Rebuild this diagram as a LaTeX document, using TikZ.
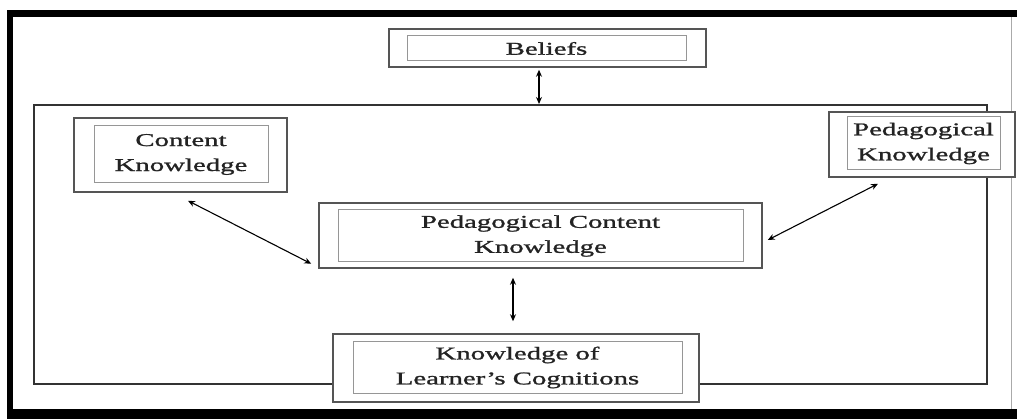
\documentclass[tikz,border=0pt]{standalone}
\usepackage{fontspec}
\setmainfont{Liberation Serif}[FakeStretch=1.6,FakeBold=1.2]
\usetikzlibrary{calc,arrows.meta}

\tikzset{
  outerbox/.style={draw={rgb, 255:red, 85; green, 85; blue, 85}, line width=1.5pt, fill=white, inner sep=0pt},
  innerbox/.style={draw={rgb, 255:red, 150; green, 150; blue, 150}, line width=1pt, inner sep=0pt, align=center,
    text={rgb, 255:red, 35; green, 35; blue, 35}, font=\fontsize{18}{25}\selectfont},
  link/.style={line width=1.1pt, {Stealth[length=7pt,width=6pt]}-{Stealth[length=7pt,width=6pt]}}
}

\begin{document}
\begin{tikzpicture}[x=1pt,y=1pt,yscale=-1,xscale=1]
\useasboundingbox (0,0) rectangle (1017,419);

%Outer border 
\fill (7,10) rectangle (1017,17);
\fill (7,10) rectangle (13,419);
\fill (7,409) rectangle (1017,419);
\draw [color={rgb, 255:red, 170; green, 170; blue, 170}, line width=1pt] (1011,17) -- (1011,409);

%Shape: Rectangle [id:frame] 
\node [draw={rgb, 255:red, 50; green, 50; blue, 50}, line width=2pt, minimum width=953pt, minimum height=279pt, inner sep=0pt] (frame) at (510.5,244.5) {};

%Beliefs 
\node [outerbox, minimum width=317pt, minimum height=38pt] (beliefs) at (547.5,48) {};
\node [innerbox, minimum width=279pt, minimum height=25pt] at (546.5,48.5) {Beliefs};

%Content Knowledge 
\node [outerbox, minimum width=213pt, minimum height=74pt] (ck) at (180.5,155) {};
\node [innerbox, minimum width=174pt, minimum height=57pt] at (181,154.5) {Content\\Knowledge};

%Pedagogical Knowledge 
\node [outerbox, minimum width=186pt, minimum height=65pt] (pk) at (922,144.5) {};
\node [innerbox, minimum width=153pt, minimum height=53pt] at (923.5,143.5) {Pedagogical\\Knowledge};

%Pedagogical Content Knowledge 
\node [outerbox, minimum width=443pt, minimum height=65pt] (pck) at (540.5,235.5) {};
\node [innerbox, minimum width=405pt, minimum height=52pt] at (540.5,236) {Pedagogical Content\\Knowledge};

%Knowledge of Learner's Cognitions 
\node [outerbox, minimum width=366pt, minimum height=68pt] (klc) at (516,368) {};
\node [innerbox, minimum width=329pt, minimum height=51pt] at (517.5,367.5) {Knowledge of\\Learner's Cognitions};

%Arrows 
\coordinate (bl) at ($(beliefs.south)+(-8.5,2)$);
\draw [link] (bl) -- (bl |- frame.north);
\draw [link] ($(ck.south)+(7.5,8)$) -- ($(pck.south west)+(-7,-5)$);
\draw [link] ($(pk.south)+(-44,6)$) -- ($(pck.east)+(5,4.5)$);
\draw [link] ($(pck.south)+(-27.5,9)$) -- ($(klc.north)+(-3,-12)$);

\end{tikzpicture}
\end{document}
